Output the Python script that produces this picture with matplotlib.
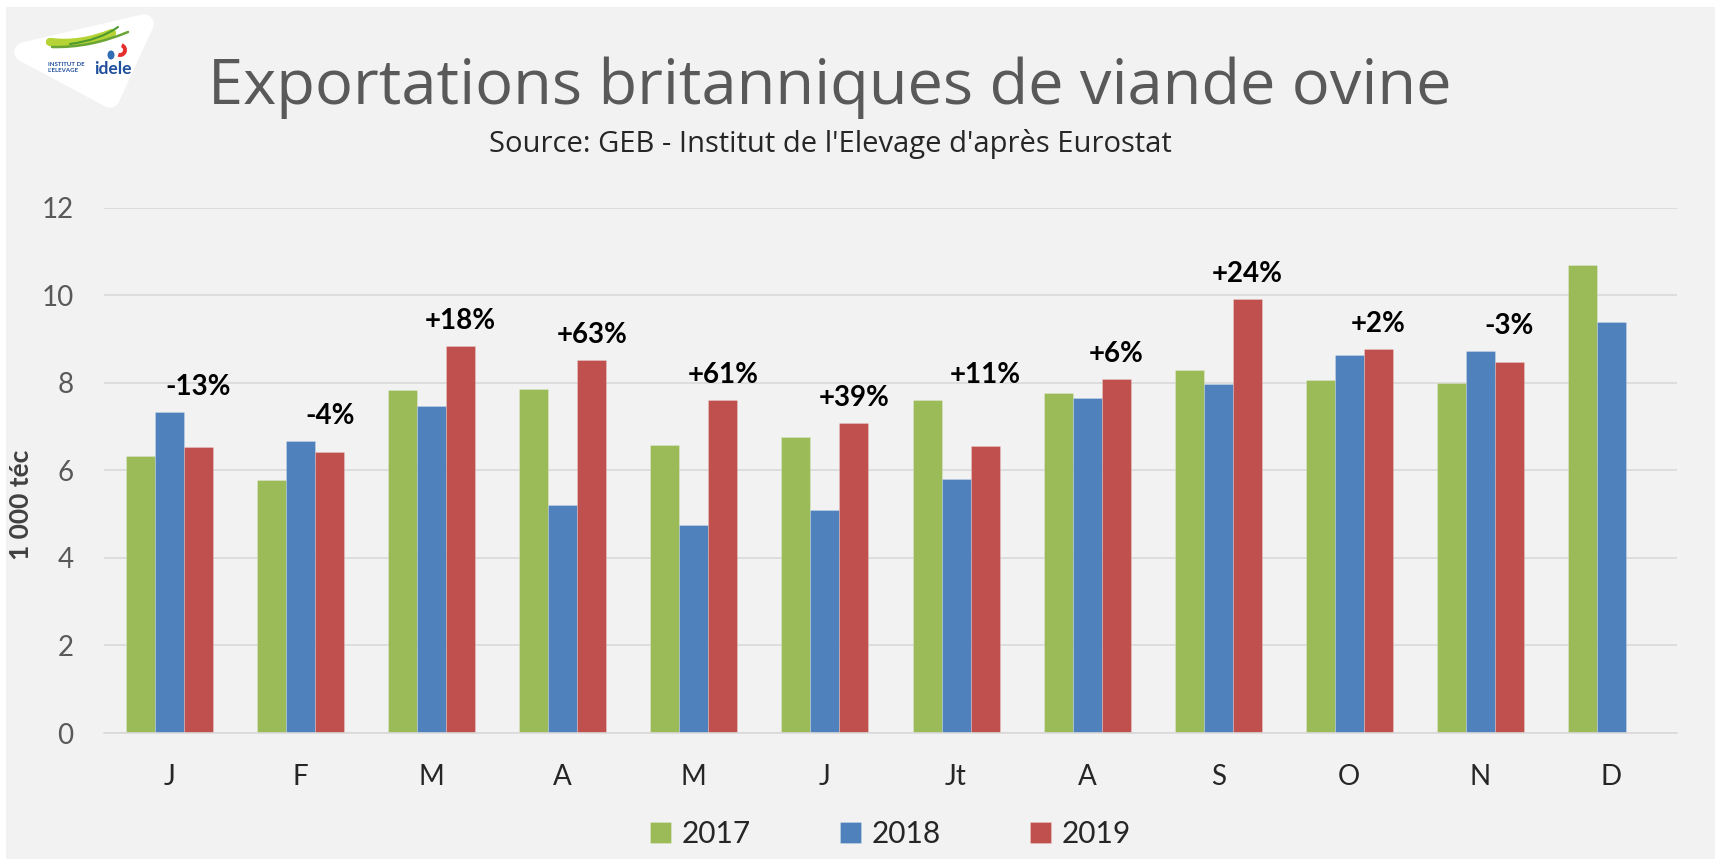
import numpy as np
import matplotlib
matplotlib.use("Agg")
import matplotlib.pyplot as plt
from matplotlib.patches import Rectangle, Polygon, PathPatch, Ellipse, Wedge
from matplotlib.path import Path

# chart data (1 000 téc)
months = ['J', 'F', 'M', 'A', 'M', 'J', 'Jt', 'A', 'S', 'O', 'N', 'D']
years = ['2017', '2018', '2019']
exp_2017 = [6.32, 5.78, 7.84, 7.86, 6.58, 6.77, 7.60, 7.77, 8.30, 8.06, 7.99, 10.68]
exp_2018 = [7.34, 6.67, 7.47, 5.20, 4.75, 5.10, 5.80, 7.64, 7.96, 8.63, 8.73, 9.39]
exp_2019 = [6.54, 6.42, 8.84, 8.51, 7.61, 7.08, 6.56, 8.09, 9.92, 8.78, 8.47, np.nan]
pct_labels = ['-13%', '-4%', '+18%', '+63%', '+61%', '+39%', '+11%', '+6%', '+24%', '+2%', '-3%']

colors = ['#9BBB59', '#4F81BD', '#C0504D']
W, H = 1721, 866
FONT = ['Lato', 'DejaVu Sans']
TITLE_FONT = ['Open Sans', 'DejaVu Sans']
plt.rcParams['font.family'] = FONT

fig = plt.figure(figsize=(W / 100, H / 100), dpi=100, facecolor='white')

# background + logo, drawn in pixel coordinates
bg = fig.add_axes([0, 0, 1, 1], zorder=0)
bg.set_xlim(0, W)
bg.set_ylim(H, 0)
bg.axis('off')
bg.add_patch(Rectangle((6, 7), W - 12, H - 14, facecolor='#F2F2F2', edgecolor='none'))
bg.add_patch(Polygon([(24, 52), (144, 24), (110, 98)], closed=True, facecolor='white',
                     edgecolor='white', linewidth=14, joinstyle='round'))


def swoosh(p0, p1, p2, color, lw):
    path = Path([p0, p1, p2], [Path.MOVETO, Path.CURVE3, Path.CURVE3])
    bg.add_patch(PathPatch(path, facecolor='none', edgecolor=color, linewidth=lw, capstyle='round'))


swoosh((50, 42), (80, 46), (112, 33), '#B5D334', 6)
swoosh((52, 47), (90, 48), (128, 32), '#6AA535', 1.8)
swoosh((70, 44), (100, 40), (118, 27), '#4E9A2F', 1.5)
bg.add_patch(Wedge((120, 50), 7, -70, 110, width=4, facecolor='#E52E2E', edgecolor='none'))
bg.add_patch(Ellipse((111, 55), 7, 9, facecolor='#2F6DB5', edgecolor='none'))
bg.text(48, 64, "INSTITUT DE", fontsize=4.4, fontweight='bold', color='#1F4E9C', va='center')
bg.text(48, 71, "L'ELEVAGE", fontsize=4.4, fontweight='bold', color='#1F4E9C', va='center')
bg.text(94, 69, "idele", fontsize=12.5, fontweight='bold', color='#1F4E9C', va='center')

# titles
fig.text(830 / W, 1 - 88 / H, "Exportations britanniques de viande ovine", ha='center', va='center',
         fontsize=45.5, family=TITLE_FONT, color='#595959')
fig.text(830 / W, 1 - 144 / H, "Source: GEB - Institut de l'Elevage d'après Eurostat", ha='center',
         va='center', fontsize=21, family=TITLE_FONT, color='#262626')

# main chart
ax = fig.add_axes([104 / W, 1 - 733 / H, (1677 - 104) / W, (733 - 207.5) / H], zorder=1)
ax.set_facecolor('none')
x = np.arange(len(months))
bw = 0.2214
series = [exp_2017, exp_2018, exp_2019]
for i, (vals, col, yr) in enumerate(zip(series, colors, years)):
    ax.bar(x + (i - 1) * bw, vals, width=bw, color=col, label=yr, zorder=2,
           edgecolor='#FFFFFF40', linewidth=0.6)

# growth labels above the 2019 bars
for i, lab in enumerate(pct_labels):
    top = np.nanmax([exp_2017[i], exp_2018[i], exp_2019[i]])
    ax.text(x[i] + bw, top + 0.57, lab, ha='center', va='center', fontsize=20,
            fontweight='bold', color='black', zorder=3)

ax.set_xlim(-0.5, len(months) - 0.5)
ax.set_ylim(0, 12)
ax.set_yticks(range(0, 13, 2))
ax.set_xticks(x)
ax.set_xticklabels(months)
ax.yaxis.grid(True, color='#D9D9D9', linewidth=1.2, zorder=0)
ax.set_axisbelow(True)
for s in ['top', 'right', 'left']:
    ax.spines[s].set_visible(False)
ax.spines['bottom'].set_color('#D9D9D9')
ax.spines['bottom'].set_linewidth(1.2)
ax.tick_params(axis='both', length=0, labelsize=20, labelcolor='#595959')
ax.tick_params(axis='x', labelcolor='#262626')
ax.tick_params(axis='y', pad=22)
ax.tick_params(axis='x', pad=22)
ax.set_ylabel("1 000 téc", fontsize=19, fontweight='bold', color='#404040')
ax.yaxis.set_label_coords(-0.045, 0.434)

leg = ax.legend(loc='center', bbox_to_anchor=(0.5, (733 - 834) / (733 - 207.5)), ncol=3, frameon=False,
                fontsize=21.5, handlelength=0.7, handleheight=0.7, handletextpad=0.35, columnspacing=3.0)
for t in leg.get_texts():
    t.set_color('#262626')

fig.savefig('out.png', dpi=100, facecolor=fig.get_facecolor())
